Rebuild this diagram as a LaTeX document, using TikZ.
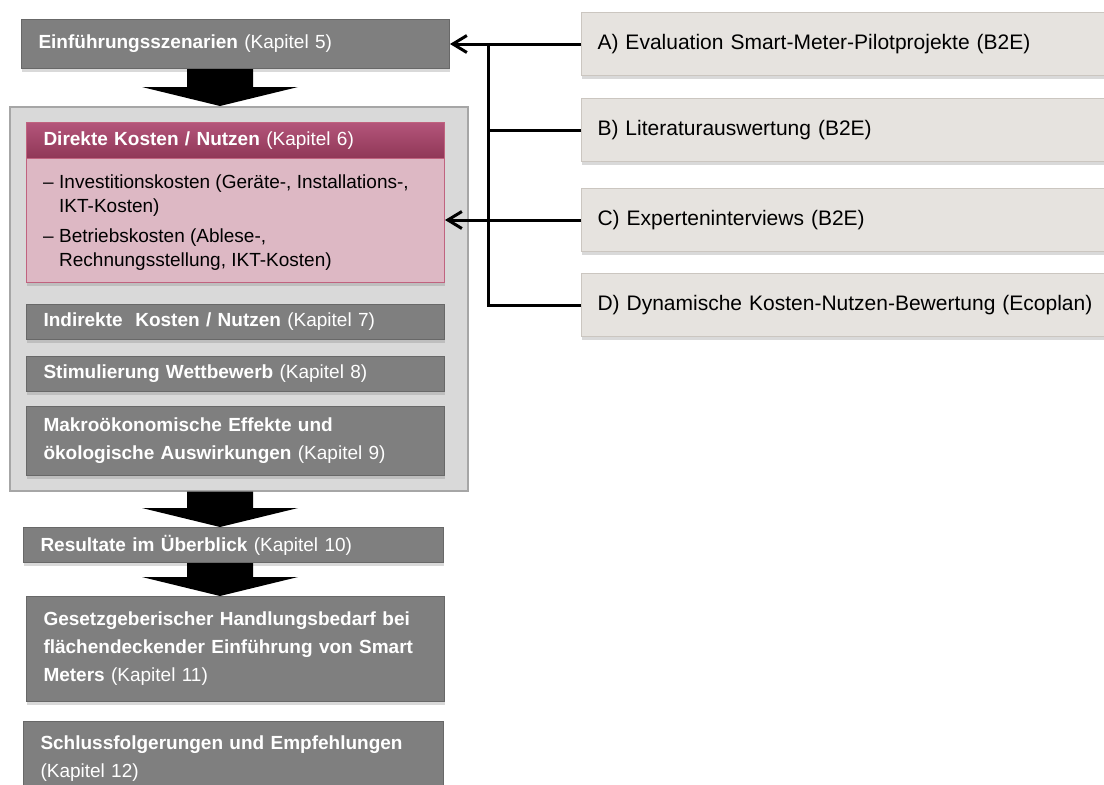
\documentclass[tikz,border=0pt]{standalone}
\usepackage{fontspec}
\setmainfont{Liberation Sans}
\usetikzlibrary{calc}
\usetikzlibrary{arrows.meta}
\usetikzlibrary{shadows}

\definecolor{boxgray}{HTML}{7F7F7F}
\definecolor{boxedge}{HTML}{686868}
\definecolor{framefill}{HTML}{D9D9D9}
\definecolor{frameedge}{HTML}{A6A6A6}
\definecolor{pinktop}{HTML}{B4557A}
\definecolor{pinkbot}{HTML}{8F3757}
\definecolor{pinkfill}{HTML}{DDB8C4}
\definecolor{pinkedge}{HTML}{C0637F}
\definecolor{srcfill}{HTML}{E6E3DF}
\definecolor{srcedge}{HTML}{CBC6C0}

\tikzset{
  boxshadow/.style={drop shadow={shadow xshift=0pt, shadow yshift=-3pt, opacity=.3}},
  graybox/.style={boxshadow, draw=boxedge, line width=1pt, fill=boxgray, text=white,
    anchor=north west, inner xsep=17pt, inner ysep=0pt, align=left,
    minimum width=418pt, text width=384pt, font=\fontsize{19}{28}\selectfont},
  srcbox/.style={boxshadow, draw=srcedge, line width=1pt, fill=srcfill, anchor=north west,
    inner xsep=16pt, inner ysep=0pt, minimum width=540pt, text width=508pt,
    minimum height=63pt, align=left, font=\fontsize{21}{26}\selectfont},
  conn/.style={black, line width=3pt},
  barb/.style={-{Straight Barb[length=14pt,width=17pt]}},
}

\begin{document}
\begin{tikzpicture}[x=1pt, y=-1pt]
\useasboundingbox (0,0) rectangle (1104,785);

% left column
\node[draw=frameedge, fill=framefill, line width=1.5pt, anchor=north west, inner sep=0pt,
  minimum width=458pt, minimum height=384pt] (frame) at (9,106) {};

\node[graybox, minimum width=428pt, text width=394pt, minimum height=49pt] (intro) at (21,19)
  {\textbf{Einführungsszenarien} (Kapitel 5)};

\node[boxshadow, draw=pinkedge, line width=1pt, fill=pinkfill, anchor=north west, inner sep=0pt,
  minimum width=418pt, minimum height=160pt] (direkt) at (26,122) {};
\node[top color=pinktop, bottom color=pinkbot, draw=pinkedge, line width=1pt, text=white,
  anchor=north west, inner xsep=17pt, inner ysep=0pt, align=left, minimum width=418pt,
  text width=384pt, minimum height=36pt, font=\fontsize{19}{24}\selectfont] (direktHead)
  at (direkt.north west) {\textbf{Direkte Kosten / Nutzen} (Kapitel 6)};
\node[anchor=north west, inner sep=0pt, align=left, font=\fontsize{19}{24}\selectfont] (direktList)
  at (43,175) {\makebox[16pt][l]{–}Investitionskosten (Geräte-, Installations-,\\
  \hspace*{16pt}IKT-Kosten)\\[6pt]
  \makebox[16pt][l]{–}Betriebskosten (Ablese-,\\
  \hspace*{16pt}Rechnungsstellung, IKT-Kosten)};

\node[graybox, minimum height=35pt] (indirekt) at (26,304)
  {\textbf{Indirekte~ Kosten / Nutzen} (Kapitel 7)};
\node[graybox, minimum height=35pt] (wettbewerb) at (26,356)
  {\textbf{Stimulierung Wettbewerb} (Kapitel 8)};
\node[graybox, minimum height=69pt] (makro) at (26,406)
  {\textbf{Makroökonomische Effekte und}\\ \textbf{ökologische Auswirkungen} (Kapitel 9)};

\node[graybox, minimum width=420pt, text width=386pt, minimum height=35pt] (result) at (23,527)
  {\textbf{Resultate im Überblick} (Kapitel 10)};
\node[graybox, minimum height=105pt] (law) at (26,596)
  {\textbf{Gesetzgeberischer Handlungsbedarf bei}\\ \textbf{flächendeckender Einführung von Smart}\\
   \textbf{Meters} (Kapitel 11)};
\node[graybox, minimum width=420pt, text width=386pt, minimum height=74pt] (concl) at (23,721)
  {\textbf{Schlussfolgerungen und Empfehlungen}\\ (Kapitel 12)};

% block arrows
\coordinate (ax) at (220,0);
\foreach \a/\b in {intro/frame, frame/result, result/law} {
  \path (\a.south -| ax) coordinate (s) (\b.north -| ax) coordinate (t);
  \fill[black] ($(s)+(-33pt,0pt)$) -- ($(s)+(33pt,0pt)$) -- ($(t)+(33pt,19pt)$)
    -- ($(t)+(78pt,19pt)$) -- (t) -- ($(t)+(-78pt,19pt)$) -- ($(t)+(-33pt,19pt)$) -- cycle;
}

% sources
\foreach \id/\top/\txt in {evalA/12/{A) Evaluation Smart-Meter-Pilotprojekte (B2E)},
    litB/98/{B) Literaturauswertung (B2E)}, expC/188/{C) Experteninterviews (B2E)},
    dynD/273/{D) Dynamische Kosten-Nutzen-Bewertung (Ecoplan)}} {
  \node[srcbox] (\id) at (581,\top) {\txt};
}

\coordinate (bus) at (488,0);
\draw[conn, barb] (evalA.west) -- (evalA.west -| intro.east);
\draw[conn] (litB.west) -- (litB.west -| bus);
\draw[conn, barb] (expC.west) -- (expC.west -| direkt.east);
\draw[conn] (dynD.west) -| (bus |- evalA.west);
\end{tikzpicture}
\end{document}
